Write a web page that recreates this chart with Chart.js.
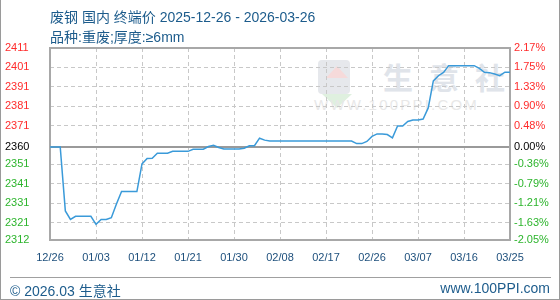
<!DOCTYPE html>
<html><head><meta charset="utf-8">
<script src="https://cdn.jsdelivr.net/npm/chart.js@4.4.1/dist/chart.umd.min.js"></script>
<style>
html,body{margin:0;padding:0;background:#fff;}
#wrap{position:relative;width:560px;height:300px;overflow:hidden;font-family:"Liberation Sans",Arial,"Noto Sans CJK SC",sans-serif;}
#frame{position:absolute;left:0;top:0;width:560px;height:300px;box-sizing:border-box;border-left:1px solid #9a9a9a;border-right:1px solid #9a9a9a;border-bottom:1px solid #9a9a9a;z-index:5;pointer-events:none;}
canvas{position:absolute;left:0;top:0;z-index:2;}
.t{position:absolute;color:#1d5c8c;white-space:nowrap;z-index:3;}
#title{left:50px;top:6px;font-size:14px;}
#sub{left:50px;top:26px;font-size:14px;}
#sep{position:absolute;left:10px;top:277px;width:541px;height:0;border-top:1px solid #a0a0a0;z-index:3;}
#fl{left:10px;top:280px;font-size:14px;}
#fr{right:10px;top:280px;font-size:14px;}
.wm{position:absolute;z-index:1;color:#e0e4ea;white-space:nowrap;}
#wm1{left:383px;top:54px;font-size:30px;font-weight:bold;letter-spacing:16px;font-family:"Noto Sans CJK SC",sans-serif;}
#wm2{left:314px;top:96px;font-size:15px;letter-spacing:2.2px;color:#e8e8e8;}
#logo{position:absolute;left:318px;top:60px;width:32px;height:34px;background:#e6e8ec;border-radius:4px;z-index:1;}
#tri{position:absolute;left:322px;top:94px;width:0;height:0;border-left:15px solid transparent;border-right:15px solid transparent;border-top:14px solid #dff0df;z-index:1;}
#tri2{position:absolute;left:326px;top:66px;width:0;height:0;border-left:11px solid transparent;border-right:11px solid transparent;border-bottom:12px solid #f6dada;z-index:1;}
</style></head>
<body>
<div id="wrap">
  <div id="logo"></div><div id="tri2"></div><div id="tri"></div>
  <div class="wm" id="wm1">生意社</div>
  <div class="wm" id="wm2">WWW.100PPI.COM</div>
  <canvas id="c" width="560" height="300"></canvas>
  <div class="t" id="title">废钢 国内 终端价 2025-12-26 - 2026-03-26</div>
  <div class="t" id="sub">品种:重废;厚度:≥6mm</div>
  <div id="sep"></div>
  <div class="t" id="fl">© 2026.03 生意社</div>
  <div class="t" id="fr">www.100PPI.com</div>
  <div id="frame"></div>
</div>
<script>
// categories: daily dates 2025-12-26 .. 2026-03-26 (91 days)
const startDate = new Date(Date.UTC(2025, 11, 26));
const dates = [];
for (let i = 0; i < 91; i++) {
  const d = new Date(startDate.getTime() + i * 86400000);
  dates.push(d.toISOString().slice(0, 10));
}
// series values (yuan/ton)
const prices = [
  2360, 2360, 2360, 2327, 2322.6, 2324.2, 2324.2, 2324.2, 2324.2, 2320.1,
  2322.6, 2322.6, 2323.5, 2330.6, 2337, 2337, 2337, 2337, 2351.2, 2354,
  2354.1, 2356.7, 2356.7, 2356.7, 2357.7, 2357.7, 2357.7, 2357.7, 2358.8, 2358.8,
  2358.8, 2360.2, 2360.8, 2359.7, 2358.9, 2358.9, 2358.9, 2358.9, 2359.3, 2360.6,
  2360.6, 2364.5, 2363.5, 2363, 2363, 2363, 2363, 2363, 2363, 2363,
  2363, 2363, 2363, 2363, 2363, 2363, 2363, 2363, 2363, 2363,
  2361.7, 2361.7, 2362.8, 2365.4, 2366.7, 2366.7, 2366.4, 2364.7, 2370.8, 2370.8,
  2373.1, 2373.9, 2373.9, 2374.4, 2380.1, 2394, 2396.7, 2398.4, 2401.9, 2401.9,
  2401.9, 2401.9, 2401.9, 2401.9, 2400.5, 2398.5, 2398.3, 2397.6, 2396.7, 2398.5,
  2398.5
];
// tick labels
const xLabels = ['12/26','01/03','01/12','01/21','01/30','02/08','02/17','02/26','03/07','03/16','03/25'];
const yTicks = [2312, 2321, 2331, 2341, 2351, 2360, 2371, 2381, 2391, 2401, 2411];
const pctLabels = ['-2.05%','-1.63%','-1.21%','-0.79%','-0.36%','0.00%','0.48%','0.90%','1.33%','1.75%','2.17%'];
const baseValue = 2360;

const points = prices.map((v, i) => ({ x: i, y: v }));
const tickColor = (ctx) => {
  const v = ctx.tick ? ctx.tick.value : 0;
  return v > baseValue ? '#ff2b2b' : (v < baseValue ? '#2db52d' : '#000000');
};

const framePlugin = {
  id: 'frame',
  beforeDatasetsDraw(chart) {
    const a = chart.chartArea, c = chart.ctx;
    c.save();
    c.strokeStyle = '#a8a8a8';
    c.lineWidth = 2;
    c.strokeRect(a.left, a.top, a.right - a.left, a.bottom - a.top);
    c.restore();
  }
};

new Chart(document.getElementById('c'), {
  type: 'line',
  data: {
    labels: dates,
    datasets: [{
      data: points,
      borderColor: '#3a9ad9',
      borderWidth: 1.5,
      pointRadius: 0,
      tension: 0,
      fill: false
    }]
  },
  options: {
    responsive: false,
    animation: false,
    events: [],
    layout: { padding: { top: 48, left: 5, right: 0, bottom: 30 } },
    plugins: { legend: { display: false }, tooltip: { enabled: false } },
    scales: {
      x: {
        type: 'linear', position: 'bottom', min: 0, max: 90,
        afterBuildTicks: (s) => { s.ticks = xLabels.map((_, i) => ({ value: i * 9 })); },
        afterFit: (s) => { s.height = 30; },
        ticks: {
          autoSkip: false, maxRotation: 0, padding: 11,
          color: '#1d4f7c', font: { size: 11, family: '"Liberation Sans", Arial' },
          callback: (v) => xLabels[Math.round(v / 9)]
        },
        grid: { color: '#c8c8c8', lineWidth: 1, drawTicks: false },
        border: { display: false, dash: [4, 3] }
      },
      y: {
        type: 'linear', position: 'left', min: 2312, max: 2411,
        afterBuildTicks: (s) => { s.ticks = yTicks.map(v => ({ value: v })); },
        afterFit: (s) => { s.width = 45; },
        ticks: {
          crossAlign: 'far', padding: 0, color: tickColor,
          font: { size: 11, family: '"Liberation Sans", Arial' },
          callback: (v) => String(v)
        },
        grid: {
          drawTicks: false,
          color: (ctx) => (ctx.tick && ctx.tick.value === baseValue) ? '#9a9a9a' : '#c8c8c8',
          lineWidth: (ctx) => (ctx.tick && ctx.tick.value === baseValue) ? 2 : 1
        },
        border: { display: false, dash: (ctx) => (ctx.tick && ctx.tick.value === baseValue) ? [] : [4, 3] }
      },
      y2: {
        type: 'linear', position: 'right', min: 2312, max: 2411,
        afterBuildTicks: (s) => { s.ticks = yTicks.map(v => ({ value: v })); },
        afterFit: (s) => { s.width = 50; },
        ticks: {
          padding: 4, color: tickColor,
          font: { size: 11, family: '"Liberation Sans", Arial' },
          callback: (v) => pctLabels[yTicks.indexOf(v)]
        },
        grid: { display: false, drawTicks: false },
        border: { display: false }
      }
    }
  },
  plugins: [framePlugin]
});
</script>
</body></html>
